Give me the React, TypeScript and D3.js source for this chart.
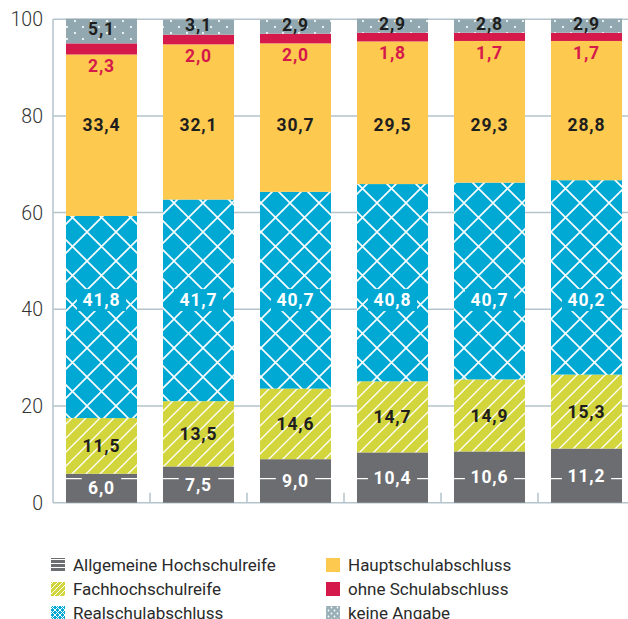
import React from "react";
import * as d3 from "d3";

const categories = ["A", "B", "C", "D", "E", "F"];
const allgemeine = [6.0, 7.5, 9.0, 10.4, 10.6, 11.2];
const fachhoch = [11.5, 13.5, 14.6, 14.7, 14.9, 15.3];
const realschul = [41.8, 41.7, 40.7, 40.8, 40.7, 40.2];
const hauptschul = [33.4, 32.1, 30.7, 29.5, 29.3, 28.8];
const ohne = [2.3, 2.0, 2.0, 1.8, 1.7, 1.7];
const keine = [5.1, 3.1, 2.9, 2.9, 2.8, 2.9];
const yTicks = [0, 20, 40, 60, 80, 100];

const seriesNames = [
  "Allgemeine Hochschulreife",
  "Fachhochschulreife",
  "Realschulabschluss",
  "Hauptschulabschluss",
  "ohne Schulabschluss",
  "keine Angabe",
];
const seriesValues = [allgemeine, fachhoch, realschul, hauptschul, ohne, keine];
const fills = ["url(#pGray)", "url(#pDiag)", "url(#pCross)", "#fdc94f", "#d5194b", "url(#pDots)"];
const legendFills = ["url(#lGray)", "url(#lDiag)", "url(#lCross)", "#fdc94f", "#d5194b", "url(#lDots)"];

const W = 628;
const H = 619;
const FONT = "Roboto, 'DejaVu Sans', sans-serif";

export default function App() {
  const y = d3.scaleLinear().domain([0, 100]).range([502.7, 19.2]);
  const x = d3
    .scaleBand<string>()
    .domain(categories)
    .range([53, 53 + 97 * 6])
    .paddingInner(0.268)
    .paddingOuter(0.134);

  const stack = categories.map((c, i) => {
    let acc = 0;
    return seriesValues.map((s, k) => {
      const y0 = acc;
      acc += s[i];
      return { k, y0, y1: acc, v: s[i] };
    });
  });
  const fmt = (v: number) => v.toFixed(1).replace(".", ",");
  const bw = x.bandwidth();
  const gridC = "#b5c3cb";

  return (
    <svg width={W} height={H} style={{ position: "absolute", left: 0, top: 0, background: "#fff" }}>
      <defs>
        <pattern id="pGray" patternUnits="userSpaceOnUse" width={10} height={10}>
          <rect width={10} height={10} fill="#6c6d71" />
        </pattern>
        <pattern id="pDiag" patternUnits="userSpaceOnUse" width={14} height={14}>
          <rect width={14} height={14} fill="#d3d53c" />
          <path d="M-2,16 L16,-2 M-2,2 L2,-2 M12,16 L16,12" stroke="#fff" strokeWidth={1.3} />
        </pattern>
        <pattern id="pCross" patternUnits="userSpaceOnUse" width={29} height={29}>
          <rect width={29} height={29} fill="#00a9d4" />
          <path d="M0,0 L29,29 M29,0 L0,29" stroke="#fff" strokeWidth={1.6} />
        </pattern>
        <pattern id="pDots" patternUnits="userSpaceOnUse" width={16} height={12}>
          <rect width={16} height={12} fill="#91a8b0" />
          <circle cx={3} cy={3} r={1.1} fill="#fff" />
          <circle cx={11} cy={9} r={1.1} fill="#fff" />
        </pattern>
        <pattern id="lGray" patternUnits="userSpaceOnUse" width={4} height={4}>
          <rect width={4} height={4} fill="#6c6d71" />
          <rect y={3} width={4} height={1} fill="#fff" />
        </pattern>
        <pattern id="lDiag" patternUnits="userSpaceOnUse" width={5} height={5}>
          <rect width={5} height={5} fill="#d3d53c" />
          <path d="M-1,6 L6,-1 M-1,1 L1,-1 M4,6 L6,4" stroke="#fff" strokeWidth={1} />
        </pattern>
        <pattern id="lCross" patternUnits="userSpaceOnUse" width={5} height={5}>
          <rect width={5} height={5} fill="#00a9d4" />
          <path d="M0,0 L5,5 M5,0 L0,5" stroke="#fff" strokeWidth={1} />
        </pattern>
        <pattern id="lDots" patternUnits="userSpaceOnUse" width={6} height={6}>
          <rect width={6} height={6} fill="#9ab0b8" />
          <circle cx={1.5} cy={1.5} r={0.9} fill="#fff" />
          <circle cx={4.5} cy={4.5} r={0.9} fill="#fff" />
        </pattern>
      </defs>

      {/* grid */}
      {yTicks.filter((t) => t > 0).map((t) => (
        <line key={t} x1={53} x2={W} y1={y(t)} y2={y(t)} stroke={gridC} strokeWidth={1.5} />
      ))}
      {/* axes */}
      <line x1={53} x2={53} y1={y(100)} y2={y(0)} stroke={gridC} strokeWidth={1.5} />
      <line x1={53} x2={W} y1={y(0)} y2={y(0)} stroke={gridC} strokeWidth={1.5} />
      {categories.slice(1).map((c) => {
        const bx = (x(c) as number) - (x.step() - bw) / 2;
        return <line key={c} x1={bx} x2={bx} y1={y(0)} y2={y(0) - 10} stroke={gridC} strokeWidth={1.5} />;
      })}
      {yTicks.map((t) => (
        <text
          key={t}
          x={43}
          y={y(t)}
          dy="0.36em"
          textAnchor="end"
          fontFamily={FONT}
          fontSize={19.5}
          fontWeight={300}
          fill="#333"
        >
          {t}
        </text>
      ))}

      {/* bars */}
      {categories.map((c, i) => {
        const x0 = x(c) as number;
        const cx = x0 + bw / 2;
        return (
          <g key={c}>
            {stack[i].map((s) => (
              <rect
                key={s.k}
                x={x0}
                width={bw}
                y={y(s.y1)}
                height={y(s.y0) - y(s.y1)}
                fill={fills[s.k]}
              />
            ))}
            {/* white separator line within gray */}
            <line x1={x0} x2={x0 + bw} y1={y(5)} y2={y(5)} stroke="#fff" strokeWidth={1.3} />
            {stack[i].map((s) => {
              const txt = fmt(s.v);
              let ly = (y(s.y0) + y(s.y1)) / 2;
              let color = "#1e1e1e";
              let bg: string | null = null;
              if (s.k === 0) {
                color = "#fff";
                bg = "#6c6d71";
              }
              if (s.k === 2) {
                color = "#fff";
                bg = "#00a9d4";
                ly = y(41.9);
              }
              if (s.k === 3) ly = y(78.1);
              if (s.k === 4) {
                color = "#d5194b";
                ly = y(s.y0) + 11.5;
              }
              if (s.k === 5) ly -= 2;
              const tw = txt.length * 9.8;
              return (
                <g key={"l" + s.k}>
                  {bg && (
                    <rect x={cx - tw / 2 - 5} y={ly - 11} width={tw + 10} height={22} fill={bg} />
                  )}
                  <text
                    x={cx}
                    y={ly}
                    dy="0.36em"
                    textAnchor="middle"
                    fontFamily={FONT}
                    fontSize={17.5}
                    fontWeight={700}
                    letterSpacing={0.9}
                    fill={color}
                  >
                    {txt}
                  </text>
                </g>
              );
            })}
          </g>
        );
      })}

      {/* legend */}
      {seriesNames.map((n, k) => {
        const col = k < 3 ? 0 : 1;
        const row = k % 3;
        const lx = col === 0 ? 51 : 326;
        const ly = 565 + row * 24;
        return (
          <g key={n}>
            <rect x={lx} y={ly - 7} width={14} height={14} fill={legendFills[k]} />
            <text
              x={lx + 22}
              y={ly}
              dy="0.36em"
              fontFamily={FONT}
              fontSize={17}
              fontWeight={400}
              fill="#2a2a2a"
            >
              {n}
            </text>
          </g>
        );
      })}
    </svg>
  );
}
